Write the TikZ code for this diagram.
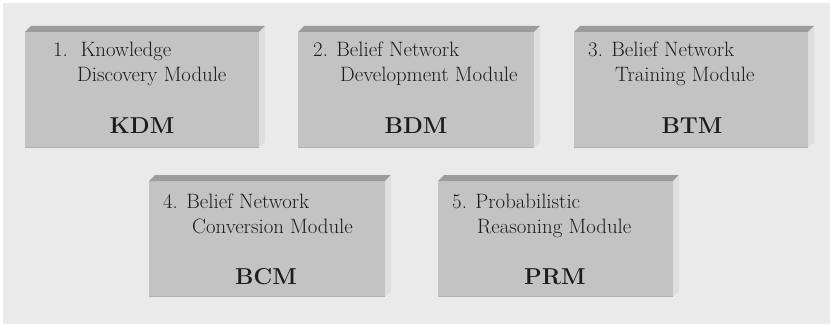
\documentclass[tikz,border=0pt]{standalone}
\usepackage{fontspec}
\definecolor{panelgray}{HTML}{EAEAEA}
\definecolor{facegray}{HTML}{C3C3C3}
\definecolor{topgray}{HTML}{9C9C9C}
\definecolor{sidegray}{HTML}{DEDEDE}
\definecolor{edgegray}{HTML}{B0B0B0}
\definecolor{inkgray}{HTML}{1C1C1C}
% front face of a module block, with its top bevel and right side
\newcommand\moduleblock[5]{% name, left, top, width, height
  \node[face, minimum width=#4pt, minimum height=#5pt] (#1) at (#2,#3) {};
  \fill[topgray] (#1.north west) -- ++(6,-6) -- ++(#4,0) -- (#1.north east) -- cycle;
  \fill[sidegray] (#1.north east) -- ++(6,-6) -- ++(0,#5) -- (#1.south east) -- cycle;
  \draw[edgegray, line width=1pt] ([yshift=0.5pt]#1.south west) -- ([yshift=0.5pt]#1.south east);
}
\begin{document}
\begin{tikzpicture}[x=1pt,y=-1pt,
  face/.style={fill=facegray, inner sep=0pt, outer sep=0pt, anchor=north west},
  line/.style={anchor=base west, inner sep=0pt, text=inkgray,
    font=\rmfamily\fontsize{20.8}{24}\selectfont},
  acro/.style={anchor=base, inner sep=0pt, text=inkgray,
    font=\rmfamily\fontsize{23}{27}\selectfont\bfseries}]
\useasboundingbox (0,0) rectangle (830,326);
\fill[white] (0,0) rectangle (830,326);
\fill[panelgray] (3,3) rectangle (830,324);

% upper row
\moduleblock{kdm}{25}{32}{234}{116}
\moduleblock{bdm}{298}{32}{236}{116}
\moduleblock{btm}{574}{32}{234}{116}
% lower row
\moduleblock{bcm}{149}{181}{236}{116}
\moduleblock{prm}{438}{181}{235}{116}

\node[line] (kdm1) at (53,57) {1.\ \ Knowledge};
\node[line] (kdm2) at (77,82) {Discovery Module};
\node[acro] (kdm3) at (142,134) {KDM};

\node[line] (bdm1) at (313,57) {2. Belief Network};
\node[line] (bdm2) at (340,82) {Development Module};
\node[acro] (bdm3) at (416,134) {BDM};

\node[line] (btm1) at (588,57) {3. Belief Network};
\node[line] (btm2) at (615,82) {Training Module};
\node[acro] (btm3) at (692,134) {BTM};

\node[line] (bcm1) at (163,208) {4. Belief Network};
\node[line] (bcm2) at (192,233) {Conversion Module};
\node[acro] (bcm3) at (266,284) {BCM};

\node[line] (prm1) at (452,208) {5. Probabilistic};
\node[line] (prm2) at (477,233) {Reasoning Module};
\node[acro] (prm3) at (555,284) {PRM};
\end{tikzpicture}
\end{document}
